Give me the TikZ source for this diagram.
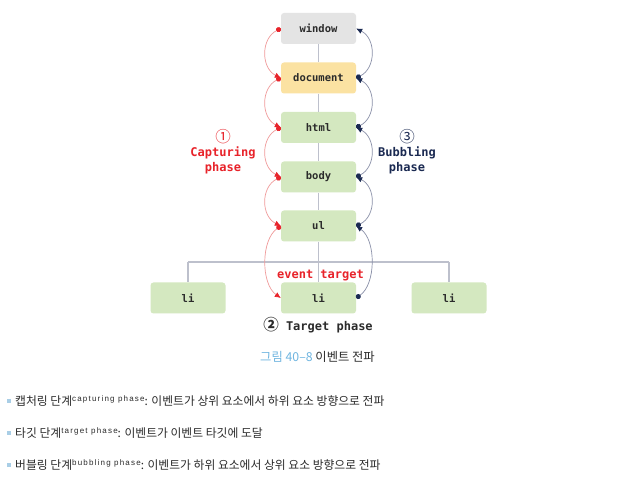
\documentclass[tikz,border=0pt]{standalone}
\usepackage{fontspec}
\usetikzlibrary{arrows.meta}
\setmainfont{Liberation Sans}
\newfontfamily\monof{DejaVu Sans Mono}
\newfontfamily\krf{Noto Sans CJK KR}
\newfontfamily\supf[LetterSpace=15]{Liberation Sans}
\definecolor{capred}{HTML}{E8232A}
\definecolor{capredl}{HTML}{F09A9A}
\definecolor{bubnavy}{HTML}{1B2A52}
\definecolor{bubnavyl}{HTML}{8A90A8}
\definecolor{boxgreen}{HTML}{D4E8C0}
\definecolor{boxyellow}{HTML}{FBE2A2}
\definecolor{boxgray}{HTML}{E4E4E4}
\definecolor{linegray}{HTML}{BDC0CC}
\definecolor{captblue}{HTML}{6FB5E0}
\definecolor{txtdark}{HTML}{2B2B2B}
\definecolor{bulletblue}{HTML}{A9CEE6}
\tikzset{
  dombox/.style={rectangle, rounded corners=3pt, minimum width=75pt, minimum height=31pt,
    inner sep=0pt, font=\monof\bfseries\fontsize{10.5}{12}\selectfont, text=txtdark},
  greenbox/.style={dombox, fill=boxgreen},
  treeline/.style={draw=linegray, line width=1.6pt},
  caparc/.style={draw=capredl, line width=0.7pt,
    {Circle[length=5pt,color=capred]}-{Latex[length=6pt,width=5.5pt,color=capred]}},
  bubarc/.style={draw=bubnavyl, line width=0.7pt,
    {Circle[length=5pt,color=bubnavy]}-{Latex[length=6pt,width=5.5pt,color=bubnavy]}},
  phaselbl/.style={font=\monof\bfseries\fontsize{12}{14}\selectfont, inner sep=0pt},
  circnum/.style={font=\krf\fontsize{15.5}{16}\selectfont, inner sep=0pt},
  bulletline/.style={anchor=west, inner sep=0pt, font=\krf\fontsize{11.8}{13}\selectfont, text=txtdark},
  bulletsq/.style={fill=bulletblue, draw=none, minimum size=4pt, inner sep=0pt},
}
\newcommand{\supw}[1]{\raisebox{3.5pt}{\supf\fontsize{8}{9}\selectfont #1}}
\begin{document}
\begin{tikzpicture}[x=1pt,y=-1pt]
\useasboundingbox (0,0) rectangle (641,478);
\fill[white] (0,0) rectangle (641,478);
\coordinate (brl) at (188,262);
\coordinate (brr) at (449,262);
\node[dombox, fill=boxgray] (window) at (318.5,28.5) {window};
\node[dombox, fill=boxyellow] (document) at (318.5,78) {document};
\node[greenbox] (html) at (318.5,127.5) {html};
\node[greenbox] (body) at (318.5,177) {body};
\node[greenbox] (ul) at (318.5,226) {ul};
\node[greenbox] (li2) at (318.5,298) {li};
\node[greenbox] (li1) at (188,298) {li};
\node[greenbox] (li3) at (449,298) {li};
\draw[treeline] (window.south) -- (document.north);
\draw[treeline] (document.south) -- (html.north);
\draw[treeline] (html.south) -- (body.north);
\draw[treeline] (body.south) -- (ul.north);
\draw[treeline] (ul.south) -- (li2.north);
\draw[treeline] (brl) -- (brr);
\draw[treeline] (brl) -- (li1.north);
\draw[treeline] (brr) -- (li3.north);
% capturing arcs
\draw[caparc] (window.west) .. controls +(-20,10) and +(-20,-10) .. (document.west);
\draw[caparc] (document.west) .. controls +(-20,10) and +(-20,-10) .. (html.west);
\draw[caparc] (html.west) .. controls +(-20,10) and +(-20,-10) .. (body.west);
\draw[caparc] (body.west) .. controls +(-20,10) and +(-20,-10) .. (ul.west);
\draw[caparc] (ul.west) .. controls +(-20,14) and +(-20,-14) .. (li2.west);
% bubbling arcs
\draw[bubarc] (li2.east) .. controls +(20,-14) and +(20,14) .. (ul.east);
\draw[bubarc] (ul.east) .. controls +(20,-10) and +(20,10) .. (body.east);
\draw[bubarc] (body.east) .. controls +(20,-10) and +(20,10) .. (html.east);
\draw[bubarc] (html.east) .. controls +(20,-10) and +(20,10) .. (document.east);
\draw[bubarc] (document.east) .. controls +(20,-10) and +(20,10) .. (window.east);
% labels
\node[circnum, text=capred] (c1) at (223,137) {①};
\node[phaselbl, text=capred] (capt) at (223,153) {Capturing};
\node[phaselbl, text=capred] (capp) at (223,168) {phase};
\node[circnum, text=bubnavy] (c3) at (407,137) {③};
\node[phaselbl, text=bubnavy] (bubt) at (407,153) {Bubbling};
\node[phaselbl, text=bubnavy] (bubp) at (407,168) {phase};
\node[phaselbl, text=capred] (evt) at (320.5,276) {event target};
\node[phaselbl, text=txtdark] (tgt) at (318,325) {{\krf\fontsize{15.5}{16}\selectfont ②} Target phase};
% caption
\node[inner sep=0pt, font=\krf\fontsize{12.3}{14}\selectfont] (cap) at (317.5,357) {\textcolor{captblue}{그림 40–8} \textcolor{txtdark}{이벤트 전파}};
% bullets
\node[bulletsq] (b1) at (9,401) {};
\node[bulletsq] (b2) at (9,433) {};
\node[bulletsq] (b3) at (9,465) {};
\node[bulletline] (t1) at (15,401) {캡처링 단계\supw{capturing phase}: 이벤트가 상위 요소에서 하위 요소 방향으로 전파};
\node[bulletline] (t2) at (15,433) {타깃 단계\supw{target phase}: 이벤트가 이벤트 타깃에 도달};
\node[bulletline] (t3) at (15,465) {버블링 단계\supw{bubbling phase}: 이벤트가 하위 요소에서 상위 요소 방향으로 전파};
\end{tikzpicture}
\end{document}
